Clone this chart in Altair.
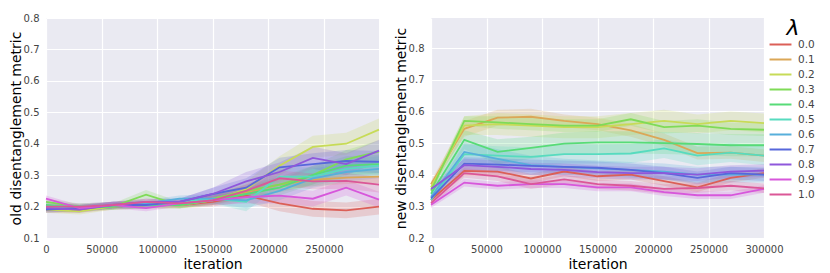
import altair as alt
import pandas as pd

lambdas = ["0.0", "0.1", "0.2", "0.3", "0.4", "0.5", "0.6", "0.7", "0.8", "0.9", "1.0"]
palette = ["#db5f57", "#dba757", "#c7db57", "#7fdb57", "#57db77", "#57dbbf",
           "#57afdb", "#5767db", "#8f57db", "#d757db", "#db5797"]

iters_old = [0, 30000, 60000, 90000, 120000, 150000, 180000, 210000, 240000, 270000, 299500]
iters_new = [0, 30000, 60000, 90000, 120000, 150000, 180000, 210000, 240000, 270000, 300000]

old_mean = {
    "0.0": [0.190, 0.190, 0.200, 0.205, 0.205, 0.215, 0.235, 0.210, 0.193, 0.188, 0.200],
    "0.1": [0.195, 0.195, 0.205, 0.210, 0.205, 0.225, 0.245, 0.270, 0.285, 0.292, 0.295],
    "0.2": [0.190, 0.185, 0.200, 0.205, 0.205, 0.220, 0.255, 0.330, 0.390, 0.400, 0.445],
    "0.3": [0.215, 0.200, 0.200, 0.238, 0.205, 0.225, 0.250, 0.270, 0.300, 0.350, 0.375],
    "0.4": [0.205, 0.195, 0.200, 0.205, 0.205, 0.220, 0.240, 0.260, 0.300, 0.330, 0.335],
    "0.5": [0.200, 0.200, 0.205, 0.205, 0.215, 0.225, 0.215, 0.295, 0.295, 0.320, 0.330],
    "0.6": [0.200, 0.195, 0.205, 0.210, 0.225, 0.225, 0.220, 0.250, 0.290, 0.310, 0.320],
    "0.7": [0.190, 0.195, 0.205, 0.205, 0.215, 0.240, 0.260, 0.325, 0.335, 0.345, 0.342],
    "0.8": [0.195, 0.190, 0.205, 0.215, 0.215, 0.240, 0.280, 0.310, 0.355, 0.335, 0.378],
    "0.9": [0.225, 0.195, 0.205, 0.195, 0.210, 0.220, 0.230, 0.235, 0.225, 0.260, 0.222],
    "1.0": [0.200, 0.200, 0.205, 0.215, 0.210, 0.220, 0.250, 0.290, 0.280, 0.282, 0.270],
}
old_err = {
    "0.0": [0.010, 0.010, 0.010, 0.010, 0.010, 0.015, 0.020, 0.025, 0.025, 0.025, 0.025],
    "0.1": [0.010, 0.010, 0.010, 0.010, 0.010, 0.015, 0.020, 0.020, 0.020, 0.020, 0.020],
    "0.2": [0.010, 0.010, 0.010, 0.010, 0.010, 0.015, 0.025, 0.030, 0.035, 0.035, 0.035],
    "0.3": [0.010, 0.010, 0.010, 0.015, 0.010, 0.015, 0.020, 0.025, 0.030, 0.030, 0.035],
    "0.4": [0.010, 0.010, 0.010, 0.010, 0.010, 0.015, 0.020, 0.025, 0.030, 0.030, 0.030],
    "0.5": [0.010, 0.010, 0.010, 0.010, 0.010, 0.015, 0.030, 0.030, 0.030, 0.030, 0.030],
    "0.6": [0.010, 0.010, 0.010, 0.010, 0.010, 0.015, 0.025, 0.030, 0.030, 0.030, 0.030],
    "0.7": [0.010, 0.010, 0.010, 0.010, 0.010, 0.020, 0.030, 0.030, 0.035, 0.035, 0.035],
    "0.8": [0.010, 0.010, 0.010, 0.010, 0.010, 0.020, 0.030, 0.030, 0.035, 0.035, 0.035],
    "0.9": [0.010, 0.010, 0.010, 0.010, 0.010, 0.015, 0.020, 0.025, 0.025, 0.025, 0.025],
    "1.0": [0.010, 0.010, 0.010, 0.010, 0.010, 0.015, 0.020, 0.025, 0.025, 0.025, 0.025],
}

new_mean = {
    "0.0": [0.320, 0.412, 0.410, 0.388, 0.410, 0.395, 0.400, 0.380, 0.360, 0.390, 0.405],
    "0.1": [0.370, 0.545, 0.580, 0.583, 0.570, 0.560, 0.540, 0.510, 0.468, 0.470, 0.460],
    "0.2": [0.360, 0.555, 0.560, 0.555, 0.550, 0.550, 0.560, 0.570, 0.560, 0.570, 0.563],
    "0.3": [0.350, 0.570, 0.565, 0.560, 0.555, 0.555, 0.575, 0.550, 0.555, 0.545, 0.542],
    "0.4": [0.340, 0.510, 0.472, 0.485, 0.498, 0.502, 0.502, 0.500, 0.497, 0.493, 0.493],
    "0.5": [0.320, 0.465, 0.460, 0.456, 0.465, 0.465, 0.467, 0.483, 0.460, 0.470, 0.460],
    "0.6": [0.330, 0.472, 0.450, 0.430, 0.425, 0.420, 0.415, 0.410, 0.400, 0.400, 0.400],
    "0.7": [0.325, 0.435, 0.432, 0.428, 0.425, 0.422, 0.415, 0.405, 0.390, 0.405, 0.400],
    "0.8": [0.355, 0.430, 0.425, 0.418, 0.415, 0.408, 0.405, 0.405, 0.400, 0.410, 0.413],
    "0.9": [0.305, 0.375, 0.365, 0.370, 0.370, 0.360, 0.360, 0.345, 0.335, 0.335, 0.355],
    "1.0": [0.310, 0.405, 0.395, 0.370, 0.385, 0.370, 0.365, 0.355, 0.358, 0.365, 0.357],
}
new_err = {
    "0.0": [0.010, 0.015, 0.015, 0.015, 0.015, 0.015, 0.015, 0.015, 0.015, 0.015, 0.015],
    "0.1": [0.010, 0.025, 0.025, 0.025, 0.020, 0.020, 0.020, 0.020, 0.020, 0.020, 0.020],
    "0.2": [0.010, 0.030, 0.035, 0.035, 0.035, 0.035, 0.035, 0.035, 0.030, 0.030, 0.030],
    "0.3": [0.010, 0.015, 0.020, 0.020, 0.020, 0.020, 0.020, 0.020, 0.020, 0.020, 0.020],
    "0.4": [0.010, 0.030, 0.040, 0.035, 0.035, 0.035, 0.035, 0.035, 0.035, 0.035, 0.035],
    "0.5": [0.010, 0.030, 0.030, 0.030, 0.030, 0.030, 0.030, 0.030, 0.030, 0.030, 0.030],
    "0.6": [0.010, 0.030, 0.030, 0.030, 0.025, 0.025, 0.025, 0.025, 0.025, 0.025, 0.025],
    "0.7": [0.010, 0.020, 0.020, 0.020, 0.020, 0.020, 0.020, 0.020, 0.020, 0.020, 0.020],
    "0.8": [0.010, 0.020, 0.020, 0.020, 0.020, 0.020, 0.020, 0.020, 0.020, 0.020, 0.020],
    "0.9": [0.010, 0.012, 0.012, 0.012, 0.012, 0.012, 0.012, 0.012, 0.012, 0.012, 0.012],
    "1.0": [0.010, 0.015, 0.015, 0.015, 0.015, 0.015, 0.015, 0.015, 0.015, 0.015, 0.015],
}


def frame(iters, mean, err):
    rows = []
    for lam in lambdas:
        for it, m, e in zip(iters, mean[lam], err[lam]):
            rows.append({"iteration": it, "lam": lam, "mean": m, "lo": m - e, "hi": m + e})
    return pd.DataFrame(rows)


df_old = frame(iters_old, old_mean, old_err)
df_new = frame(iters_new, new_mean, new_err)

FONT = "DejaVu Sans"


def panel(df, ytitle, xdom, xticks, ydom, yticks, show_legend):
    x = alt.X("iteration:Q", title="iteration",
              scale=alt.Scale(domain=xdom, nice=False, zero=False),
              axis=alt.Axis(values=xticks, tickCount=20, format="d", labelFlush=False,
                            labelOverlap=False, labelPadding=6, titlePadding=3))
    y_axis = alt.Axis(values=yticks, tickCount=20, format=".1f", labelFlush=False, labelOverlap=False)
    if show_legend:
        legend = alt.Legend(title="λ", symbolOpacity=1)
    else:
        legend = None
    color = alt.Color("lam:N", scale=alt.Scale(domain=lambdas, range=palette), legend=legend)
    band = alt.Chart(df).mark_area(opacity=0.22).encode(
        x=x,
        y=alt.Y("lo:Q", title=ytitle, scale=alt.Scale(domain=ydom, nice=False, zero=False), axis=y_axis),
        y2="hi:Q",
        color=color,
    )
    line = alt.Chart(df).mark_line(strokeWidth=1.8).encode(
        x=x,
        y=alt.Y("mean:Q"),
        color=color,
    )
    return alt.layer(band, line).properties(width=333, height=220)


left = panel(df_old, "old disentanglement metric", [0, 299500],
             [0, 50000, 100000, 150000, 200000, 250000], [0.1, 0.8],
             [0.1, 0.2, 0.3, 0.4, 0.5, 0.6, 0.7, 0.8], False)
right = panel(df_new, "new disentanglement metric", [0, 300000],
              [0, 50000, 100000, 150000, 200000, 250000, 300000], [0.2, 0.895],
              [0.2, 0.3, 0.4, 0.5, 0.6, 0.7, 0.8], True)

chart = alt.hconcat(left, right, spacing=11).resolve_scale(color="independent").properties(
    padding={"left": 1, "top": 5, "right": 0, "bottom": 0}
).configure_view(
    fill="#EAEAF2", strokeWidth=0
).configure_axis(
    grid=True, gridColor="white", gridWidth=1.2, domain=False, ticks=False,
    labelFont=FONT, labelFontSize=10, labelColor="#444444", labelPadding=7,
    titleFont=FONT, titleFontSize=14, titleFontWeight="normal", titleColor="black",
    titlePadding=0,
).configure_legend(
    orient="right", offset=4, labelFont=FONT, labelFontSize=10.5, labelColor="#444444",
    symbolType="M-1.55,0H1.55", symbolStrokeWidth=2, symbolSize=200, symbolOpacity=1,
    titleFont=FONT, titleFontSize=22, titleFontStyle="italic", titleFontWeight="normal",
    titleColor="black", titleAnchor="middle", titlePadding=-4, rowPadding=1, labelOffset=9,
)

chart.save("out.html", embed_options={"renderer": "svg", "actions": False})
